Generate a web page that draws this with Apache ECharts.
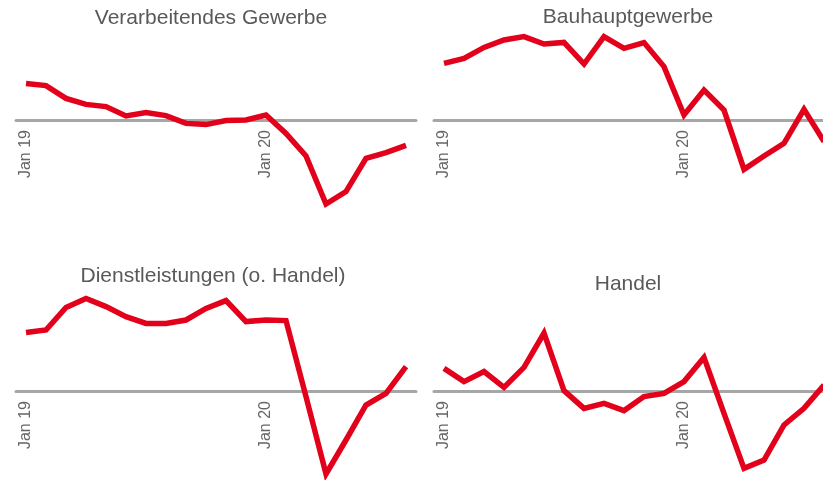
<!DOCTYPE html>
<html>
<head>
<meta charset="utf-8">
<script src="https://cdn.jsdelivr.net/npm/echarts@6/dist/echarts.min.js"></script>
<style>
  html, body { margin: 0; padding: 0; background: #fff; }
  #chart { width: 823px; height: 480px; }
</style>
</head>
<body>
<div id="chart"></div>
<script>
// Monate Jan 19 bis Aug 20
const months = ['Jan 19', 'Feb 19', 'Mrz 19', 'Apr 19', 'Mai 19', 'Jun 19', 'Jul 19', 'Aug 19', 'Sep 19', 'Okt 19', 'Nov 19', 'Dez 19',
  'Jan 20', 'Feb 20', 'Mrz 20', 'Apr 20', 'Mai 20', 'Jun 20', 'Jul 20', 'Aug 20']
const tickLabels = ['Jan 19', 'Jan 20']

const titles = ['Verarbeitendes Gewerbe', 'Bauhauptgewerbe', 'Dienstleistungen (o. Handel)', 'Handel']

const verarbeitendes = [18.3, 17.2, 10.8, 7.8, 6.7, 2, 3.7, 2.2, -1.7, -2.3, -0.3, 0, 2.5, -6.7, -18, -42, -35.8, -19.2, -16.3, -12.7]
const bauhaupt = [28.3, 30.8, 36.3, 40, 41.7, 38, 38.8, 28, 41.7, 35.8, 38.7, 26.7, 2.5, 15, 5, -24.7, -18, -11.7, 5.3, -10.8]
const dienstleistungen = [29.2, 30.5, 41.8, 46.3, 42.2, 37.2, 33.8, 33.8, 35.5, 41.3, 45.2, 34.7, 35.5, 35.2, -2.8, -41.5, -24.5, -7, -1.2, 12.2]
const handel = [11.3, 4.7, 9.7, 1.8, 11.8, 29, 0.2, -8.7, -6.2, -9.8, -2.8, -1.2, 4.7, 16.8, -11.2, -38.7, -34.5, -17, -8.7, 3]

const seriesData = [verarbeitendes, bauhaupt, dienstleistungen, handel]

const chart = echarts.init(document.getElementById('chart'))

// Panel-Layout: links / rechts, oben / unten.
// Das Raster endet an der Nulllinie, damit die Achsenbeschriftung direkt darunter sitzt;
// negative Werte werden unterhalb gezeichnet (clip: false).
const lefts = [16, 434, 16, 434]
const tops = [20, 20, 291, 291]
const titlePos = [[211, 18], [628, 17], [213, 276], [628, 284]]

const grids = lefts.map((l, i) => ({
  left: l,
  top: tops[i],
  width: 400,
  height: 100,
  outerBoundsMode: 'none'
}))

const xAxes = grids.map((g, i) => ({
  type: 'category',
  gridIndex: i,
  data: months,
  boundaryGap: true,
  axisLine: { lineStyle: { color: '#a6a6a6', width: 3 } },
  axisTick: { show: false },
  axisLabel: {
    rotate: 90,
    margin: 10,
    fontSize: 16,
    fontFamily: 'Liberation Sans, Arial, sans-serif',
    color: '#666',
    interval: 0,
    formatter: v => (tickLabels.indexOf(v) >= 0 ? v : '')
  },
  splitLine: { show: false }
}))

const yAxes = grids.map((g, i) => ({
  type: 'value',
  gridIndex: i,
  min: 0,
  max: 50,
  show: false
}))

const series = seriesData.map((d, i) => ({
  type: 'line',
  xAxisIndex: i,
  yAxisIndex: i,
  data: d,
  symbol: 'none',
  clip: false,
  z: 5,
  lineStyle: { color: '#e2001a', width: 5.5, join: 'miter' },
  animation: false
}))

const graphic = titles.map((t, i) => ({
  type: 'text',
  x: titlePos[i][0],
  y: titlePos[i][1],
  style: {
    text: t,
    align: 'center',
    verticalAlign: 'middle',
    fontSize: 21,
    fontFamily: 'Liberation Sans, Arial, sans-serif',
    fill: '#595959'
  }
}))

chart.setOption({
  animation: false,
  grid: grids,
  xAxis: xAxes,
  yAxis: yAxes,
  series: series,
  graphic: graphic
})
</script>
</body>
</html>
